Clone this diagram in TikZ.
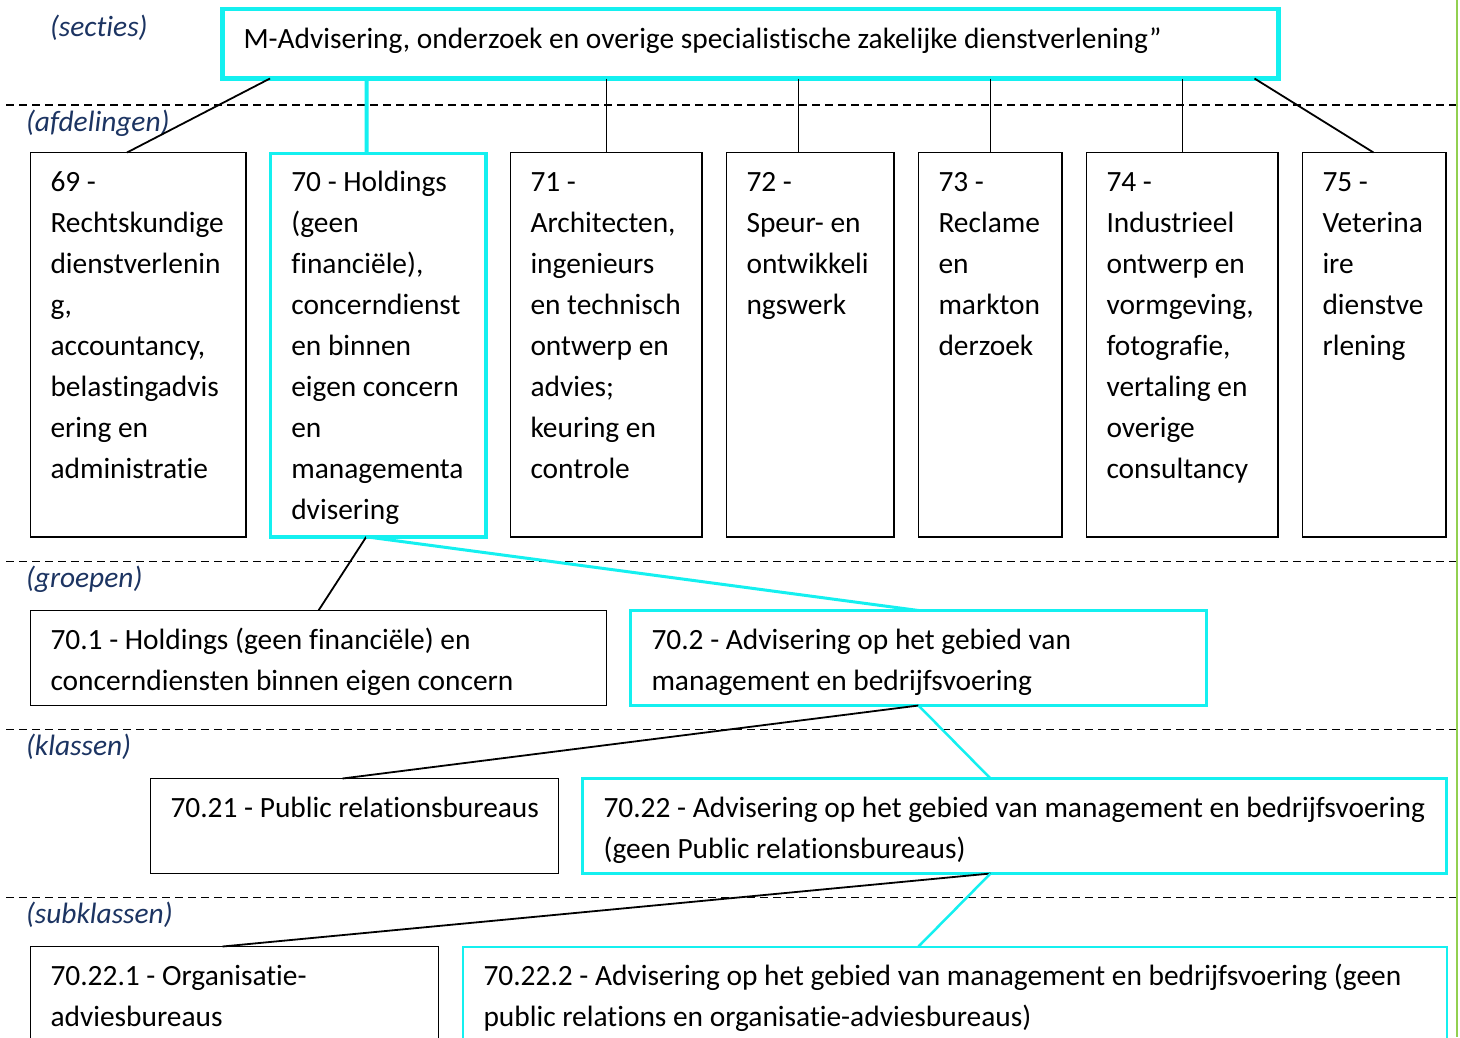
\documentclass[tikz,border=0pt]{standalone}
\usepackage{fontspec}
\setmainfont{Carlito}[Ligatures=NoCommon]
\usetikzlibrary{calc}
\definecolor{hl}{RGB}{20,240,240}
\definecolor{levelblue}{RGB}{28,52,98}
\definecolor{edgegreen}{RGB}{146,208,80}
\begin{document}
\begin{tikzpicture}[x=1pt,y=-1pt,
  every node/.style={inner sep=0pt,outer sep=0pt},
  box/.style={draw=black,line width=1.8pt,anchor=north west},
  hlbox/.style={draw=hl,line width=3.5pt,anchor=north west},
  txt/.style={anchor=north west,align=left,font=\fontsize{29.4}{41}\selectfont},
  level/.style={anchor=base west,font=\fontsize{29.4}{41}\selectfont\itshape,text=levelblue},
  link/.style={draw=black,line width=1.8pt},
  hllink/.style={draw=hl,line width=4pt},
  sep/.style={draw=black,line width=1.8pt,dash pattern=on 8pt off 5pt}]
\clip (0,0) rectangle (1460,1037);
\fill[white] (0,0) rectangle (1460,1037);
\newcommand{\fl}{\rule{0pt}{30pt}}

% level separators and right margin
\draw[sep] (6,105) -- (1456,105);
\draw[sep] (6,561.5) -- (1456,561.5);
\draw[sep] (6,729.5) -- (1456,729.5);
\draw[sep] (6,897.5) -- (1456,897.5);
\draw[edgegreen,line width=1.2pt] (1457,0) -- (1457,1037);

% level names
\node[level] (lsec) at (50,36) {(secties)};
\node[level] (lafd) at (26,131) {(afdelingen)};
\node[level] (lgrp) at (26,587) {(groepen)};
\node[level] (lkla) at (26,755) {(klassen)};
\node[level] (lsub) at (26,923) {(subklassen)};

% section
\node[hlbox,line width=4.5pt,minimum width=1056pt,minimum height=69.5pt] (sec) at (222.5,9) {};
\node[txt] (tsec) at ($(sec.north west)+(21,9)$) {\fl M-Advisering, onderzoek en overige specialistische zakelijke dienstverlening”};

% divisions
\node[box,minimum width=215.5pt,minimum height=384.5pt] (d69) at (30.5,152.5) {};
\node[hlbox,minimum width=215.5pt,minimum height=383.5pt] (d70) at (270.3,153.3) {};
\node[box,minimum width=191.5pt,minimum height=384.5pt] (d71) at (510.5,152.5) {};
\node[box,minimum width=167.5pt,minimum height=384.5pt] (d72) at (726.5,152.5) {};
\node[box,minimum width=143.5pt,minimum height=384.5pt] (d73) at (918.5,152.5) {};
\node[box,minimum width=191.5pt,minimum height=384.5pt] (d74) at (1086.5,152.5) {};
\node[box,minimum width=143.5pt,minimum height=384.5pt] (d75) at (1302.5,152.5) {};

\node[txt] (t69) at ($(d69.north west)+(20,9)$) {\fl 69 -\\Rechtskundige\\dienstverlenin\\g,\\accountancy,\\belastingadvis\\ering en\\administratie};
\node[txt] (t70) at ($(d70.north west)+(21,8.2)$) {\fl 70 - Holdings\\(geen\\financiële),\\concerndienst\\en binnen\\eigen concern\\en\\managementa\\dvisering};
\node[txt] (t71) at ($(d71.north west)+(20,9)$) {\fl 71 -\\Architecten,\\ingenieurs\\en technisch\\ontwerp en\\advies;\\keuring en\\controle};
\node[txt] (t72) at ($(d72.north west)+(20,9)$) {\fl 72 -\\Speur- en\\ontwikkeli\\ngswerk};
\node[txt] (t73) at ($(d73.north west)+(20,9)$) {\fl 73 -\\Reclame\\en\\markton\\derzoek};
\node[txt] (t74) at ($(d74.north west)+(20,9)$) {\fl 74 -\\Industrieel\\ontwerp en\\vormgeving,\\fotografie,\\vertaling en\\overige\\consultancy};
\node[txt] (t75) at ($(d75.north west)+(20,9)$) {\fl 75 -\\Veterina\\ire\\dienstve\\rlening};

% groups
\node[box,minimum width=576pt,minimum height=95pt] (g1) at (30.5,610.5) {};
\node[hlbox,line width=3pt,minimum width=576pt,minimum height=95pt] (g2) at (630.5,610.5) {};
\node[txt] (tg1) at ($(g1.north west)+(20,9)$) {\fl 70.1 - Holdings (geen financiële) en\\concerndiensten binnen eigen concern};
\node[txt] (tg2) at ($(g2.north west)+(21,9)$) {\fl 70.2 - Advisering op het gebied van\\management en bedrijfsvoering};

% classes
\node[box,minimum width=408pt,minimum height=95pt] (k1) at (150.5,778.5) {};
\node[hlbox,line width=2.5pt,minimum width=864pt,minimum height=95pt] (k2) at (582.5,778.5) {};
\node[txt] (tk1) at ($(k1.north west)+(20,9)$) {\fl 70.21 - Public relationsbureaus};
\node[txt] (tk2) at ($(k2.north west)+(21,9)$) {\fl 70.22 - Advisering op het gebied van management en bedrijfsvoering\\(geen Public relationsbureaus)};

% subclasses
\node[box,minimum width=408pt,minimum height=120pt] (s1) at (30.5,946.5) {};
\node[hlbox,line width=2pt,minimum width=984pt,minimum height=120pt] (s2) at (462.5,946.5) {};
\node[txt] (ts1) at ($(s1.north west)+(20,9)$) {\fl 70.22.1 - Organisatie-\\adviesbureaus};
\node[txt] (ts2) at ($(s2.north west)+(21,9)$) {\fl 70.22.2 - Advisering op het gebied van management en bedrijfsvoering (geen\\public relations en organisatie-adviesbureaus)};

% section to divisions
\draw[link] ($(sec.south west)+(47.5,0)$) -- ($(d69.north west)+(96.5,0)$);
\draw[hllink] ($(sec.south west)+(144,0)$) -- ($(d70.north west)+(96.4,0)$);
\draw[link] ($(sec.south west)+(384,0)$) -- ($(d71.north west)+(96,0)$);
\draw[link] ($(sec.south west)+(576,0)$) -- ($(d72.north west)+(72,0)$);
\draw[link] ($(sec.south west)+(768,0)$) -- ($(d73.north west)+(72,0)$);
\draw[link] ($(sec.south west)+(960,0)$) -- ($(d74.north west)+(96,0)$);
\draw[link] ($(sec.south west)+(1032,0)$) -- ($(d75.north west)+(71,0)$);

% division 70 to groups
\draw[link] ($(d70.south west)+(96,0)$) -- ($(g1.north west)+(288,0)$);
\draw[hllink,line width=3pt] ($(d70.south west)+(96,0)$) -- ($(g2.north west)+(288,0)$);

% group 70.2 to classes
\draw[link] ($(g2.south west)+(288,0)$) -- ($(k1.north west)+(192,0)$);
\draw[hllink,line width=2.5pt] ($(g2.south west)+(288,0)$) -- ($(k2.north west)+(408,0)$);

% class 70.22 to subclasses
\draw[link] ($(k2.south west)+(408,0)$) -- ($(s1.north west)+(192,0)$);
\draw[hllink,line width=2.5pt] ($(k2.south west)+(408,0)$) -- ($(s2.north west)+(456,0)$);
\end{tikzpicture}
\end{document}
